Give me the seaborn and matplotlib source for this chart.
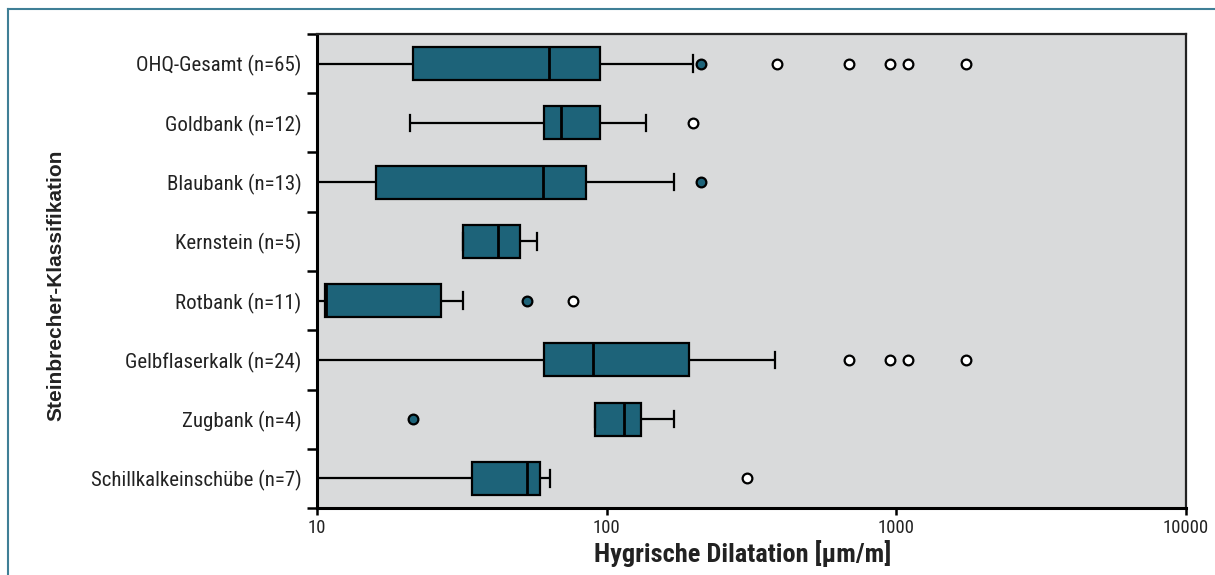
import pandas as pd
import seaborn as sns
import matplotlib.pyplot as plt
from matplotlib import font_manager
from matplotlib.lines import Line2D
from matplotlib.ticker import FixedLocator, NullLocator

categories = [
    "OHQ-Gesamt (n=65)", "Goldbank (n=12)", "Blaubank (n=13)", "Kernstein (n=5)",
    "Rotbank (n=11)", "Gelbflaserkalk (n=24)", "Zugbank (n=4)", "Schillkalkeinschübe (n=7)",
]
whisker_low = [10, 21, 10, 31.8, 10, 10, 91, 10]
q1 = [21.5, 60.8, 16, 31.8, 10.65, 60.8, 91, 34.4]
median = [63, 69.5, 60.3, 42.2, 10.75, 90, 115, 53]
q3 = [95, 95, 84.7, 50.2, 26.7, 193, 131, 58.9]
whisker_high = [199, 137, 171, 57.4, 31.8, 381, 171, 63.7]

filled_cat = ["OHQ-Gesamt (n=65)", "Blaubank (n=13)", "Rotbank (n=11)", "Zugbank (n=4)"]
filled_val = [212, 212, 53, 21.5]
open_cat = ["OHQ-Gesamt (n=65)"] * 5 + ["Goldbank (n=12)", "Rotbank (n=11)"] + \
    ["Gelbflaserkalk (n=24)"] * 4 + ["Schillkalkeinschübe (n=7)"]
open_val = [387, 689, 953, 1099, 1738, 199, 76.4, 689, 953, 1099, 1738, 305]

teal = "#1d6379"
bg = "#d9dadb"

# look for a condensed face, else fall back to Liberation Sans (Arial metrics)
fonts = font_manager.fontManager.ttflist
narrow_family, narrow_stretch, condensed = "Liberation Sans", "normal", False
for name in ["Liberation Sans Narrow", "Roboto Condensed", "Noto Sans Condensed",
             "Open Sans Condensed", "DejaVu Sans Condensed"]:
    if any(f.name == name for f in fonts):
        narrow_family, condensed = name, True
        break
else:
    for f in fonts:
        if f.name in ("Noto Sans", "Roboto", "DejaVu Sans", "Open Sans") and \
                f.stretch in ("condensed", "semi-condensed", 75, 87.5):
            narrow_family, narrow_stretch, condensed = f.name, "condensed", True
            break

ytick_size = 15 if condensed else 13.5
xtick_size = 13.5 if condensed else 12.5
xlab_size = 19 if condensed else 16.5

# five-number summaries -> long table (5 points give exact quartiles)
rows = []
for i, c in enumerate(categories):
    for v in (whisker_low[i], q1[i], median[i], q3[i], whisker_high[i]):
        rows.append({"cat": c, "val": v})
df = pd.DataFrame(rows)

fig = plt.figure(figsize=(12.15, 5.75), dpi=100)
ax = fig.add_axes([0.2609, 0.1165, 0.7152, 0.8244])
ax.set_facecolor(bg)

sns.boxplot(df, x="val", y="cat", order=categories, whis=(0, 100), log_scale=True,
            color=teal, saturation=1, linecolor="black", linewidth=1.6,
            width=0.56, fliersize=0, ax=ax,
            medianprops={"color": "black", "linewidth": 2})

sns.stripplot(x=filled_val, y=filled_cat, order=categories, jitter=False,
              color=teal, edgecolor="black", linewidth=1.6, size=7, ax=ax)
sns.stripplot(x=open_val, y=open_cat, order=categories, jitter=False,
              color="white", edgecolor="black", linewidth=1.6, size=7, ax=ax)

ax.set_xlim(10, 10000)
ax.set_ylim(7.5, -0.5)
ax.xaxis.set_major_locator(FixedLocator([10, 100, 1000, 10000]))
ax.xaxis.set_minor_locator(NullLocator())
ax.set_xticklabels(["10", "100", "1000", "10000"])
ax.yaxis.set_major_locator(FixedLocator(range(8)))
ax.yaxis.set_minor_locator(FixedLocator([k - 0.5 for k in range(9)]))
ax.set_yticklabels(categories)

ax.tick_params(axis="y", which="major", length=0, pad=11, labelsize=ytick_size)
ax.tick_params(axis="y", which="minor", length=7, width=1.8, direction="out")
ax.tick_params(axis="x", which="major", length=5, width=1.8, labelsize=xtick_size, pad=3)
for lab in ax.get_yticklabels() + ax.get_xticklabels():
    lab.set_family(narrow_family)
    lab.set_stretch(narrow_stretch)
    lab.set_color("#222222")

ax.set_xlabel("Hygrische Dilatation [µm/m]", fontsize=xlab_size, fontweight="bold",
              family=narrow_family, fontstretch=narrow_stretch, color="#222222")
ax.xaxis.set_label_coords(0.49, -0.097)
ax.xaxis.label.set_va("center")
ax.set_ylabel("Steinbrecher-Klassifikation", fontsize=15, fontweight="bold",
              family="Liberation Sans", color="#222222", labelpad=0)
ax.yaxis.set_label_coords(-0.29, 0.47)

for s in ("left", "bottom"):
    ax.spines[s].set_linewidth(2.2)
    ax.spines[s].set_color("black")
for s in ("top", "right"):
    ax.spines[s].set_linewidth(1.6)
    ax.spines[s].set_color("#222222")

# outer frame
fig.add_artist(Line2D([8 / 1215, 1], [1 - 9 / 575] * 2, color="#3f7f96", lw=1.5))
fig.add_artist(Line2D([8 / 1215] * 2, [0, 1 - 9 / 575], color="#3f7f96", lw=1.5))

fig.savefig("out.png", dpi=100)
